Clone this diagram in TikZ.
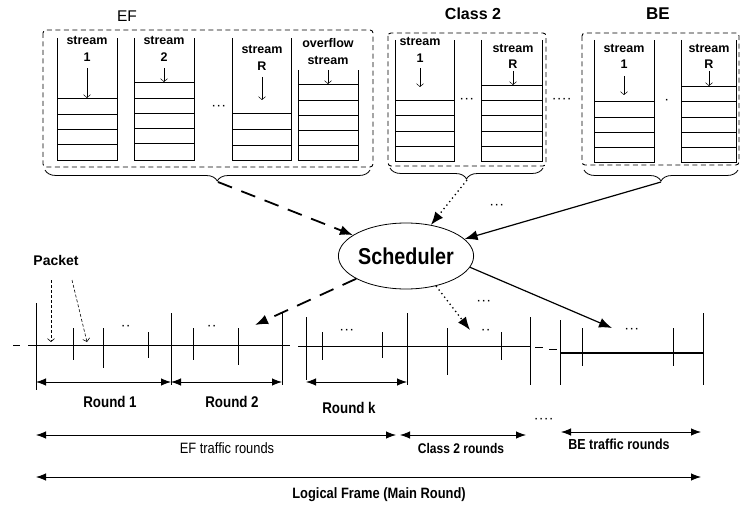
\documentclass[tikz,border=0pt]{standalone}
\usepackage{fontspec}
\setmainfont{Liberation Sans}
\newfontfamily\narrowfont[FakeStretch=0.86]{Liberation Sans}
\usetikzlibrary{arrows.meta,decorations.pathreplacing,shapes.geometric}
\newcommand\drawqueue[5]{%
  \draw[qline] (#1,#3) -- (#1,#4) -- (#2,#4) -- (#2,#3);
  \foreach \yy in {#5} {\draw[qline] (#1,\yy) -- (#2,\yy);}
}
\begin{document}
\begin{tikzpicture}[x=1pt,y=-1pt,
  qline/.style={line width=0.9pt},
  qarr/.style={-{Straight Barb[length=3pt,width=7pt]}, line width=0.5pt},
  grp/.style={line width=0.9pt, dash pattern=on 5pt off 3.5pt, rounded corners=3pt},
  brc/.style={decorate, decoration={brace, mirror, amplitude=11pt}, line width=0.8pt},
  qtxt/.style={inner sep=0pt, font=\fontsize{12.5}{13}\selectfont\bfseries},
  ttl/.style={inner sep=0pt, font=\fontsize{16}{17}\selectfont\bfseries},
  bighead/.style={-{Latex[length=13pt,width=10pt]}},
  bigdash/.style={bighead, line width=1.8pt, dash pattern=on 15pt off 10pt},
  bigdot/.style={bighead, line width=1.3pt, dash pattern=on 1.3pt off 3.2pt},
  bigsolid/.style={bighead, line width=1.2pt},
  tick/.style={line width=0.9pt},
  tline/.style={line width=0.8pt},
  rarr/.style={{Latex[length=10pt,width=7.5pt]}-{Latex[length=10pt,width=7.5pt]}, line width=0.8pt},
  dots/.style={inner sep=0pt, font=\fontsize{10}{10}\selectfont\bfseries},
  rlbl/.style={inner sep=0pt, font=\narrowfont\fontsize{15.5}{16}\selectfont\bfseries},
  blbl/.style={inner sep=0pt, font=\narrowfont\fontsize{14.5}{15}\selectfont\bfseries},
  pkt/.style={-{Straight Barb[length=3pt,width=7pt]}, line width=0.6pt, dash pattern=on 3pt off 2pt}
]
\useasboundingbox (0,0) rectangle (741,505);

% ---------- group boxes and titles ----------
\draw[grp] (43,30) rectangle (373,167);
\draw[grp] (388,33) rectangle (546,166);
\draw[grp] (582,33) rectangle (739,165);
\node[ttl, font=\fontsize{15.5}{16}\selectfont] (tEF) at (127,16) {EF};
\node[ttl] (tC2) at (473,14) {Class 2};
\node[ttl, font=\fontsize{17}{18}\selectfont\bfseries] (tBE) at (658,14) {BE};

% ---------- queues ----------
\drawqueue{57}{117}{38}{160}{98,114,129,144}
\drawqueue{134}{194}{38}{160}{82,98,113,128,143}
\drawqueue{232}{291}{38}{160}{113,129,145}
\drawqueue{298}{358}{70}{160}{84,100,115,130,145}
\drawqueue{395}{454}{40}{161}{100,115,131,146}
\drawqueue{481}{542}{40}{161}{85,100,115,131,146}
\drawqueue{594}{654}{40}{162}{101,117,132,147}
\drawqueue{681}{736}{40}{162}{86,101,117,132,147}

% queue labels and inflow arrows
\node[qtxt] (s1) at (87,40) {stream};   \node[qtxt] (n1) at (87,57) {1};
\coordinate (a1s) at (87,68);  \coordinate (a1e) at (87,98);  \draw[qarr] (a1s) -- (a1e);
\node[qtxt] (s2) at (164,40) {stream};  \node[qtxt] (n2) at (164,57) {2};
\coordinate (a2s) at (164,68); \coordinate (a2e) at (164,82);  \draw[qarr] (a2s) -- (a2e);
\node[qtxt] (sR) at (262,49) {stream};  \node[qtxt] (nR) at (262,66) {R};
\coordinate (aRs) at (262,77); \coordinate (aRe) at (262,100); \draw[qarr] (aRs) -- (aRe);
\node[qtxt] (so) at (328,43) {overflow}; \node[qtxt] (so2) at (328,60) {stream};
\coordinate (aos) at (328,70); \coordinate (aoe) at (328,84);  \draw[qarr] (aos) -- (aoe);
\node[qtxt] (c1) at (420,41) {stream};  \node[qtxt] (cn1) at (420,58) {1};
\coordinate (c1s) at (420,68); \coordinate (c1e) at (420,87);  \draw[qarr] (c1s) -- (c1e);
\node[qtxt] (cR) at (513,48) {stream};  \node[qtxt] (cnR) at (513,64) {R};
\coordinate (cRs) at (513,71); \coordinate (cRe) at (513,85);  \draw[qarr] (cRs) -- (cRe);
\node[qtxt] (b1) at (624,48) {stream};  \node[qtxt] (bn1) at (624,64) {1};
\coordinate (b1s) at (624,76); \coordinate (b1e) at (624,95);  \draw[qarr] (b1s) -- (b1e);
\node[qtxt] (bR) at (709,48) {stream};  \node[qtxt] (bnR) at (709,64) {R};
\coordinate (bRs) at (709,71); \coordinate (bRe) at (709,86);  \draw[qarr] (bRs) -- (bRe);

\node[dots] (d1) at (219,107) {·\,·\,·};
\node[dots] (d2) at (467,100) {·\,·\,·};
\node[dots] (d3) at (562,100) {·\,·\,·\,·};
\node[dots] (d4) at (667,101) {·};

% ---------- braces ----------
\draw[brc, decoration={aspect=0.53}] (45,170) -- (370,170);
\draw[brc, decoration={aspect=0.5}] (390,168) -- (543,168);
\draw[brc, decoration={aspect=0.5}] (584,170) -- (738,170);
\coordinate (eft) at (218,182);
\coordinate (c2t) at (467,180);
\coordinate (bet) at (661,182);

% ---------- scheduler ----------
\node[draw, ellipse, line width=0.8pt, minimum width=128pt, minimum height=66pt,
      inner sep=0pt, font=\narrowfont\fontsize{23}{24}\selectfont\bfseries] (sch) at (406,256) {Scheduler};
\draw[bigdash] (eft) -- (sch);
\draw[bigdot] (c2t) -- (sch);
\draw[bigsolid] (bet) -- (sch);
\node[dots] (d5) at (497,206) {·\,·\,·};

\coordinate (o1) at (255,325);
\coordinate (o2) at (470,330);
\coordinate (o3) at (612,328);
\draw[bigdash] (sch) -- (o1);
\draw[bigdot] (sch.-45) -- (o2);
\draw[bigsolid] (sch.-10) -- (o3);
\node[dots] (d6) at (484,302) {·\,·\,·};
\node[dots] (d7) at (486,331) {·\,·};
\node[dots] (d8) at (632,330) {·\,·\,·};

% ---------- packet ----------
\node[inner sep=0pt, font=\fontsize{14}{15}\selectfont\bfseries] (pk) at (56,260) {Packet};
\coordinate (p1s) at (51,280); \coordinate (p1e) at (51,342);
\coordinate (p2s) at (72,280); \coordinate (p2e) at (87,342);
\draw[pkt] (p1s) -- (p1e);
\draw[pkt] (p2s) -- (p2e);

% ---------- time line ----------
\draw[tline] (13,345) -- (20,345);
\draw[tline] (28,345) -- (290,345);
\draw[tline] (298,346) -- (530,346);
\draw[tline] (535,347) -- (543,347);
\draw[tline] (549,349) -- (557,349);
\draw[line width=1.8pt] (560,353) -- (703,353);
\foreach \x/\a/\b in {36/303/390, 73/328/360, 103/328/368, 148/332/358, 171/313/385,
    193/328/360, 238/328/365, 282/313/385, 306/317/380, 322/332/360, 382/332/358,
    407/313/385, 447/328/375, 501/332/360, 530/317/385, 560/320/385, 582/328/366,
    673/328/366, 703/313/385}
  {\draw[tick] (\x,\a) -- (\x,\b);}
\node[dots] (d9) at (126,327) {·\,·};
\node[dots] (d10) at (212,327) {·\,·};
\node[dots] (d11) at (347,331) {·\,·\,·};

% ---------- rounds ----------
\coordinate (r1a) at (36,382);  \coordinate (r1b) at (171,382);
\coordinate (r2a) at (171,382); \coordinate (r2b) at (282,382);
\coordinate (rka) at (306,382); \coordinate (rkb) at (407,382);
\draw[rarr] (r1a) -- (r1b);
\draw[rarr] (r2a) -- (r2b);
\draw[rarr] (rka) -- (rkb);
\node[rlbl] (lr1) at (110,402) {Round 1};
\node[rlbl] (lr2) at (232,402) {Round 2};
\node[rlbl] (lrk) at (349,408) {Round k};

\coordinate (efa) at (36,435);  \coordinate (efb) at (396,435);
\coordinate (c2a) at (400,435); \coordinate (c2b) at (526,435);
\coordinate (bea) at (561,432); \coordinate (beb) at (701,432);
\draw[rarr] (efa) -- (efb);
\draw[rarr] (c2a) -- (c2b);
\draw[rarr] (bea) -- (beb);
\node[blbl, font=\narrowfont\fontsize{15}{16}\selectfont] (lef) at (227,448) {EF traffic rounds};
\node[blbl, font=\narrowfont\fontsize{14}{15}\selectfont\bfseries] (lc2) at (461,448) {Class 2 rounds};
\node[blbl] (lbe) at (619,444) {BE traffic rounds};
\node[dots] (d12) at (544,420) {·\,·\,·\,·};

\coordinate (lfa) at (36,477); \coordinate (lfb) at (701,477);
\draw[rarr] (lfa) -- (lfb);
\node[rlbl, font=\narrowfont\fontsize{15}{16}\selectfont\bfseries] (llf) at (379,495) {Logical Frame (Main Round)};
\end{tikzpicture}
\end{document}
